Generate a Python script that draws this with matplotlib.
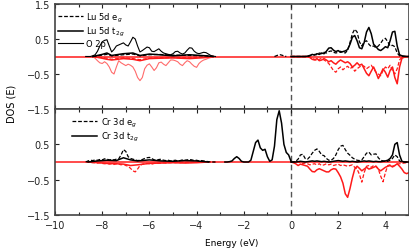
import numpy as np
import matplotlib
matplotlib.use("Agg")
import matplotlib.pyplot as plt
from matplotlib.ticker import MultipleLocator, FixedLocator

# ---------------- data ----------------
EV = np.linspace(-8.7, -3.2, 56)   # valence-band energy grid
EC = np.linspace(0.0, 5.0, 51)     # conduction-band energy grid
EG = np.linspace(-2.8, 0.0, 29)    # Cr occupied states grid

o2p_up_v = [0, 0, 0, 0.02, 0.05, 0.15, 0.3, 0.42, 0.46, 0.48, 0.3, 0.13, 0.2, 0.3, 0.33, 0.36,
            0.39, 0.33, 0.3, 0.42, 0.55, 0.5, 0.3, 0.13, 0.17, 0.22, 0.27, 0.25, 0.15, 0.14,
            0.18, 0.22, 0.15, 0.1, 0.08, 0.06, 0.05, 0.08, 0.14, 0.15, 0.1, 0.07, 0.1, 0.18,
            0.25, 0.24, 0.15, 0.1, 0.08, 0.1, 0.12, 0.11, 0.07, 0.03, 0.01, 0]
o2p_dn_v = [0, 0, 0, 0, -0.05, -0.12, -0.18, -0.2, -0.15, -0.2, -0.3, -0.45, -0.5, -0.3, -0.12,
            -0.18, -0.22, -0.26, -0.22, -0.25, -0.3, -0.42, -0.6, -0.69, -0.6, -0.35, -0.25,
            -0.21, -0.3, -0.4, -0.32, -0.18, -0.16, -0.22, -0.26, -0.18, -0.1, -0.1, -0.12,
            -0.15, -0.22, -0.26, -0.18, -0.12, -0.15, -0.22, -0.28, -0.31, -0.2, -0.14, -0.1,
            -0.08, -0.05, -0.03, -0.01, 0]

E_luv = [-8.4, -8.0, -7.8, -7.6, -7.1, -6.7, -6.4, -6.0, -5.6, -5.0, -4.3, -3.6, -3.3]
lu_t2g_up_v = [0, 0.06, 0.1, 0.03, 0.08, 0.1, 0.03, 0.07, 0.05, 0.02, 0.05, 0.02, 0]
lu_eg_up_v = [0, 0.04, 0.06, 0.02, 0.05, 0.07, 0.02, 0.05, 0.06, 0.04, 0.03, 0.02, 0]
lu_t2g_dn_v = [0, -0.05, -0.08, -0.1, -0.06, -0.08, -0.12, -0.06, -0.05, -0.04, -0.06, -0.03, 0]
lu_eg_dn_v = [0, -0.03, -0.05, -0.08, -0.04, -0.06, -0.09, -0.05, -0.04, -0.03, -0.04, -0.02, 0]

E_lugap = [-0.7, -0.55, -0.45, -0.3, -0.2]
lu_gap_up = [0, 0.04, 0.05, 0.02, 0]

lu_t2g_up_c = [0, 0, 0, 0, 0, 0, 0, 0.01, 0.03, 0.06, 0.04, 0.08, 0.06, 0.1, 0.08, 0.15, 0.24,
               0.25, 0.18, 0.14, 0.17, 0.12, 0.14, 0.16, 0.2, 0.35, 0.55, 0.6, 0.45, 0.25, 0.22,
               0.4, 0.7, 0.83, 0.65, 0.35, 0.28, 0.2, 0.17, 0.22, 0.28, 0.25, 0.45, 0.7, 0.72,
               0.3, 0.05, 0.02, 0.01, 0, 0]
lu_eg_up_c = [0, 0, 0, 0, 0, 0, 0, 0, 0.02, 0.04, 0.06, 0.05, 0.1, 0.08, 0.12, 0.1, 0.14, 0.16,
              0.12, 0.1, 0.12, 0.15, 0.12, 0.1, 0.18, 0.4, 0.65, 0.78, 0.7, 0.42, 0.3, 0.42, 0.45,
              0.35, 0.28, 0.3, 0.25, 0.3, 0.38, 0.48, 0.52, 0.42, 0.3, 0.32, 0.28, 0.1, 0.02, 0,
              0, 0, 0]
lu_t2g_dn_c = [0, 0, 0, 0, 0, 0, 0, 0, -0.03, -0.08, -0.1, -0.06, -0.12, -0.1, -0.06, -0.1,
               -0.15, -0.12, -0.18, -0.22, -0.15, -0.1, -0.14, -0.18, -0.15, -0.2, -0.3, -0.25,
               -0.18, -0.25, -0.22, -0.35, -0.48, -0.55, -0.42, -0.3, -0.45, -0.63, -0.5, -0.35,
               -0.45, -0.59, -0.4, -0.3, -0.6, -0.78, -0.3, -0.05, -0.02, 0, 0]
lu_eg_dn_c = [0, 0, 0, 0, 0, 0, 0, 0, -0.02, -0.05, -0.08, -0.12, -0.08, -0.05, -0.1, -0.14,
              -0.2, -0.3, -0.4, -0.45, -0.35, -0.3, -0.38, -0.32, -0.28, -0.35, -0.3, -0.42,
              -0.35, -0.3, -0.25, -0.28, -0.35, -0.3, -0.25, -0.35, -0.45, -0.5, -0.55, -0.4,
              -0.3, -0.35, -0.25, -0.4, -0.5, -0.35, -0.1, -0.02, 0, 0, 0]

cr_eg_up_v = [0, 0.03, 0.05, 0.04, 0.06, 0.05, 0.07, 0.06, 0.09, 0.08, 0.06, 0.07, 0.06, 0.08,
              0.09, 0.2, 0.35, 0.3, 0.15, 0.1, 0.08, 0.06, 0.04, 0.05, 0.07, 0.1, 0.12, 0.13,
              0.1, 0.06, 0.05, 0.07, 0.08, 0.05, 0.04, 0.05, 0.03, 0.04, 0.05, 0.03, 0.04, 0.06,
              0.05, 0.06, 0.07, 0.06, 0.04, 0.05, 0.03, 0.04, 0.03, 0.02, 0.01, 0, 0, 0]
cr_eg_dn_v = [0, 0, -0.01, -0.02, -0.02, -0.03, -0.02, -0.04, -0.05, -0.04, -0.06, -0.05, -0.07,
              -0.05, -0.06, -0.08, -0.06, -0.1, -0.12, -0.18, -0.25, -0.28, -0.2, -0.1, -0.06,
              -0.05, -0.04, -0.05, -0.06, -0.04, -0.03, -0.04, -0.03, -0.02, -0.03, -0.02, -0.02,
              -0.01, -0.02, -0.01, -0.02, -0.01, -0.02, -0.01, -0.02, -0.01, -0.01, -0.01, 0, 0,
              0, 0, 0, 0, 0, 0]

E_crv = [-8.6, -8.2, -7.8, -7.4, -7.1, -6.8, -6.5, -6.0, -5.5, -5.0, -4.5, -4.0, -3.5]
cr_t2g_up_v = [0, 0.03, 0.05, 0.04, 0.12, 0.06, 0.03, 0.06, 0.03, 0.02, 0.04, 0.03, 0]
cr_t2g_dn_v = [0, -0.02, -0.04, -0.05, -0.06, -0.1, -0.08, -0.04, -0.03, -0.02, -0.03, -0.02, 0]

cr_t2g_up_g = [0, 0, 0.01, 0.03, 0.1, 0.15, 0.1, 0.02, 0, 0, 0, 0.05, 0.3, 0.55, 0.62, 0.4,
               0.33, 0.36, 0.15, 0.02, 0.06, 0.45, 1.2, 1.45, 1.1, 0.5, 0.27, 0.2, 0.02]

cr_eg_up_c = [0, 0, 0.02, 0.08, 0.2, 0.22, 0.1, 0.08, 0.15, 0.25, 0.33, 0.37, 0.3, 0.2, 0.18,
              0.1, 0.05, 0.05, 0.1, 0.2, 0.35, 0.45, 0.47, 0.35, 0.25, 0.19, 0.12, 0.08, 0.05,
              0.04, 0.06, 0.15, 0.25, 0.28, 0.2, 0.22, 0.23, 0.12, 0.05, 0.03, 0.02, 0.02, 0.05,
              0.1, 0.2, 0.15, 0.03, 0, 0, 0, 0]
cr_t2g_up_c = [0, 0, 0, 0.01, 0.02, 0.01, 0, 0.01, 0.02, 0.03, 0.02, 0.03, 0.02, 0.01, 0.02,
               0.01, 0, 0.01, 0.02, 0.03, 0.04, 0.03, 0.02, 0.03, 0.02, 0.01, 0.02, 0.01, 0, 0.01,
               0.02, 0.03, 0.02, 0.03, 0.02, 0.01, 0.02, 0.01, 0.01, 0.02, 0.03, 0.05, 0.1, 0.2,
               0.5, 0.55, 0.2, 0.02, 0, 0, 0]
cr_t2g_dn_c = [0, -0.02, -0.05, -0.1, -0.06, -0.08, -0.1, -0.12, -0.2, -0.27, -0.28, -0.22,
               -0.19, -0.22, -0.25, -0.28, -0.28, -0.22, -0.19, -0.2, -0.3, -0.42, -0.6, -0.9,
               -1.0, -0.75, -0.45, -0.2, -0.12, -0.18, -0.25, -0.2, -0.15, -0.2, -0.18, -0.15,
               -0.12, -0.2, -0.25, -0.2, -0.15, -0.12, -0.1, -0.14, -0.1, -0.05, -0.12, -0.2,
               -0.3, -0.33, -0.3]
cr_eg_dn_c = [0, 0, 0, 0, -0.02, -0.05, -0.03, -0.05, -0.08, -0.06, -0.05, -0.08, -0.05, -0.1,
              -0.08, -0.05, -0.08, -0.06, -0.1, -0.08, -0.06, -0.1, -0.08, -0.1, -0.12, -0.1,
              -0.08, -0.15, -0.2, -0.35, -0.57, -0.3, -0.12, -0.1, -0.15, -0.1, -0.12, -0.2,
              -0.4, -0.56, -0.3, -0.1, -0.08, -0.12, -0.1, -0.06, -0.05, -0.04, -0.03, -0.02,
              -0.02]

for name, arr, n in [("o2p_up_v", o2p_up_v, 56), ("o2p_dn_v", o2p_dn_v, 56),
                     ("lu_t2g_up_c", lu_t2g_up_c, 51), ("lu_eg_up_c", lu_eg_up_c, 51),
                     ("lu_t2g_dn_c", lu_t2g_dn_c, 51), ("lu_eg_dn_c", lu_eg_dn_c, 51),
                     ("cr_eg_up_v", cr_eg_up_v, 56), ("cr_eg_dn_v", cr_eg_dn_v, 56),
                     ("cr_t2g_up_g", cr_t2g_up_g, 29), ("cr_eg_up_c", cr_eg_up_c, 51),
                     ("cr_t2g_up_c", cr_t2g_up_c, 51), ("cr_t2g_dn_c", cr_t2g_dn_c, 51),
                     ("cr_eg_dn_c", cr_eg_dn_c, 51)]:
    assert len(arr) == n, f"{name}: {len(arr)} != {n}"

# ---------------- figure ----------------
plt.rcParams['font.family'] = ['DejaVu Sans']
fig = plt.figure(figsize=(4.09, 2.51), dpi=100)
L, R = 55 / 409, 1.0
ax1 = fig.add_axes([L, 1 - 110 / 251, R - L, 105 / 251])
ax2 = fig.add_axes([L, 1 - 216 / 251, R - L, 106 / 251])

RED = '#ff1a1a'
PINK = '#ff6b6b'
lw_s, lw_d, lw_t = 1.1, 0.9, 0.8

def seg(ax, E, v, **kw):
    return ax.plot(E, v, **kw)[0]

# ---- top panel: Lu 5d / O 2p ----
ax1.axhline(0, color=RED, lw=1.1, zorder=1)
seg(ax1, EV, o2p_dn_v, color=PINK, lw=lw_t, zorder=2)
seg(ax1, E_luv, lu_t2g_dn_v, color=RED, lw=lw_s, zorder=2)
seg(ax1, E_luv, lu_eg_dn_v, color=RED, lw=lw_d, ls='--', dashes=(3, 1.5), zorder=2)
seg(ax1, EC, lu_t2g_dn_c, color=RED, lw=lw_s, zorder=2)
seg(ax1, EC, lu_eg_dn_c, color=RED, lw=lw_d, ls='--', dashes=(3, 1.5), zorder=2)
h_o = seg(ax1, EV, o2p_up_v, color='black', lw=lw_t, zorder=3)
h_t = seg(ax1, E_luv, lu_t2g_up_v, color='black', lw=lw_s, zorder=3)
h_e = seg(ax1, E_luv, lu_eg_up_v, color='black', lw=lw_d, ls='--', dashes=(3, 1.5), zorder=3)
seg(ax1, E_lugap, lu_gap_up, color='black', lw=lw_d, ls='--', dashes=(3, 1.5), zorder=3)
seg(ax1, EC, lu_t2g_up_c, color='black', lw=lw_s, zorder=3)
seg(ax1, EC, lu_eg_up_c, color='black', lw=lw_d, ls='--', dashes=(3, 1.5), zorder=3)
ax1.legend([h_e, h_t, h_o], ['Lu 5d e$_g$', 'Lu 5d t$_{2g}$', 'O 2p'],
           loc='upper left', bbox_to_anchor=(-0.01, 1.0), frameon=False, fontsize=6,
           handlelength=3.0, handletextpad=0.4, labelspacing=0.15, borderpad=0.3)

# ---- bottom panel: Cr 3d ----
ax2.axhline(0, color=RED, lw=1.1, zorder=1)
seg(ax2, EV, cr_eg_dn_v, color=RED, lw=lw_d, ls='--', dashes=(3, 1.5), zorder=2)
seg(ax2, E_crv, cr_t2g_dn_v, color=RED, lw=lw_s, zorder=2)
seg(ax2, EC, cr_t2g_dn_c, color=RED, lw=lw_s, zorder=2)
seg(ax2, EC, cr_eg_dn_c, color=RED, lw=lw_d, ls='--', dashes=(3, 1.5), zorder=2)
g_e = seg(ax2, EV, cr_eg_up_v, color='black', lw=lw_d, ls='--', dashes=(3, 1.5), zorder=3)
g_t = seg(ax2, E_crv, cr_t2g_up_v, color='black', lw=lw_s, zorder=3)
seg(ax2, EG, cr_t2g_up_g, color='black', lw=lw_s, zorder=3)
seg(ax2, EC, cr_t2g_up_c, color='black', lw=lw_s, zorder=3)
seg(ax2, EC, cr_eg_up_c, color='black', lw=lw_d, ls='--', dashes=(3, 1.5), zorder=3)
ax2.legend([g_e, g_t], ['Cr 3d e$_g$', 'Cr 3d t$_{2g}$'],
           loc='upper left', bbox_to_anchor=(0.03, 1.0), frameon=False, fontsize=6,
           handlelength=3.0, handletextpad=0.4, labelspacing=0.15, borderpad=0.3)

for ax in (ax1, ax2):
    ax.set_xlim(-10, 5)
    ax.set_ylim(-1.5, 1.5)
    ax.axvline(0, color='#555555', lw=1.0, ls='--', dashes=(4, 2.5), zorder=0)
    ax.xaxis.set_major_locator(MultipleLocator(2))
    ax.xaxis.set_minor_locator(MultipleLocator(1))
    ax.tick_params(which='both', direction='in', top=True, right=True, labelsize=7,
                   colors='#222222', width=0.8)
    ax.tick_params(which='major', length=3)
    ax.tick_params(which='minor', length=2)
    for s in ax.spines.values():
        s.set_color('#444444')
        s.set_linewidth(1.2)

ax1.yaxis.set_major_locator(FixedLocator([-1.5, -0.5, 0.5, 1.5]))
ax2.yaxis.set_major_locator(FixedLocator([-1.5, -0.5, 0.5]))
ax1.tick_params(labelbottom=False)
ax2.set_xlabel('Energy (eV)', fontsize=6.5, labelpad=6)
fig.text(0.028, 0.585, 'DOS (E)', rotation=90, ha='center', va='center', fontsize=7)

fig.savefig('out.png', dpi=100)
